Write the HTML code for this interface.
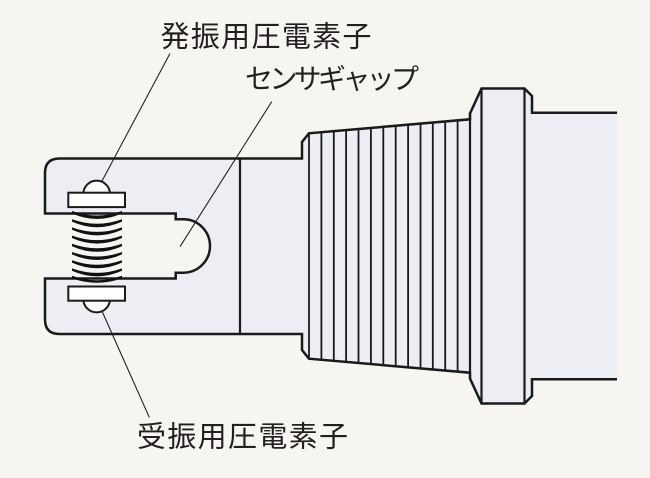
<!DOCTYPE html>
<html>
<head>
<meta charset="utf-8">
<style>
  html,body{margin:0;padding:0;background:#f6f5f1;}
  svg{display:block;}
  text{font-family:"Liberation Sans","Noto Sans CJK JP",sans-serif;fill:#231f20;}
</style>
</head>
<body>
<svg width="650" height="478" viewBox="0 0 650 478" xmlns="http://www.w3.org/2000/svg">
  <rect x="0" y="0" width="650" height="478" fill="#f6f5f1"/>

  <!-- body fill -->
  <path d="M45,213.5 V173 Q45,158.5 59.5,158.5 H302 V142 L309,133.3 L470,119.3 V113.5 L481.5,88.5 H524.5 L532,96 V112.7 H617 V379.3 H532 V396 L524.5,403.5 H481.5 L470,378.5 V372.7 L309,358.7 L302,350 V334 H59.5 Q45,334 45,319.5 V278.5 H175.7 V272.7 H183.3 A26.7,26.7 0 0 0 183.3,219.3 H175.7 V213.5 Z" fill="#eceef3" stroke="none"/>

  <!-- thread verticals -->
  <g stroke="#1a1a1a" stroke-width="1.8">
    <line x1="309" y1="133.3" x2="309" y2="358.7"/>
    <line x1="321.4" y1="132.2" x2="321.4" y2="359.8"/>
    <line x1="333.8" y1="131.1" x2="333.8" y2="360.9"/>
    <line x1="346.1" y1="130.1" x2="346.1" y2="361.9"/>
    <line x1="358.5" y1="129.0" x2="358.5" y2="363.0"/>
    <line x1="370.9" y1="127.9" x2="370.9" y2="364.1"/>
    <line x1="383.3" y1="126.8" x2="383.3" y2="365.2"/>
    <line x1="395.7" y1="125.8" x2="395.7" y2="366.2"/>
    <line x1="408.1" y1="124.7" x2="408.1" y2="367.3"/>
    <line x1="420.5" y1="123.6" x2="420.5" y2="368.4"/>
    <line x1="432.8" y1="122.5" x2="432.8" y2="369.5"/>
    <line x1="445.2" y1="121.5" x2="445.2" y2="370.5"/>
    <line x1="457.6" y1="120.4" x2="457.6" y2="371.6"/>
  </g>
  <g stroke="#1a1a1a" stroke-width="2.2">
    <line x1="470" y1="113.5" x2="470" y2="378.5"/>
    <line x1="481.5" y1="88.5" x2="481.5" y2="403.5"/>
    <line x1="524.5" y1="88.5" x2="524.5" y2="403.5"/>
    <line x1="240" y1="158.5" x2="240" y2="334"/>
  </g>

  <!-- outline -->
  <path d="M617,112.7 H532 V96 L524.5,88.5 H481.5 L470,113.5 V119.3 L309,133.3 L302,142 V158.5 H59.5 Q45,158.5 45,173 V213.5 H175.7 V219.3 H183.3 A26.7,26.7 0 0 1 183.3,272.7 H175.7 V278.5 H45 V319.5 Q45,334 59.5,334 H302 V350 L309,358.7 L470,372.7 V378.5 L481.5,403.5 H524.5 L532,396 V379.3 H617" fill="none" stroke="#1a1a1a" stroke-width="2.5" stroke-linejoin="miter"/>

  <!-- leader lines -->
  <g stroke="#222" stroke-width="1.1" fill="none">
    <line x1="170" y1="53.5" x2="102" y2="181"/>
    <line x1="271.7" y1="101.7" x2="180" y2="246.7"/>
    <line x1="101.7" y1="310.5" x2="149.3" y2="417.3"/>
  </g>

  <!-- spring -->
  <g fill="#111">
    <path d="M72,211.0 Q97,220.0 122,211.0 L122,213.4 Q97,224.6 72,213.4 Z"/>
    <path d="M72,219.2 Q97,228.2 122,219.2 L122,221.6 Q97,232.8 72,221.6 Z"/>
    <path d="M72,227.4 Q97,236.4 122,227.4 L122,229.8 Q97,241.0 72,229.8 Z"/>
    <path d="M72,235.6 Q97,244.6 122,235.6 L122,238.0 Q97,249.2 72,238.0 Z"/>
    <path d="M72,243.8 Q97,252.8 122,243.8 L122,246.2 Q97,257.4 72,246.2 Z"/>
    <path d="M72,252.0 Q97,261.0 122,252.0 L122,254.4 Q97,265.6 72,254.4 Z"/>
    <path d="M72,260.2 Q97,269.2 122,260.2 L122,262.6 Q97,273.8 72,262.6 Z"/>
    <path d="M72,268.4 Q97,277.4 122,268.4 L122,270.8 Q97,282.0 72,270.8 Z"/>
    <path d="M72,275.8 Q97,284.8 122,275.8 L122,278.2 Q97,287.4 72,278.2 Z"/>
  </g>

  <!-- piezo elements -->
  <g stroke="#1a1a1a" stroke-width="2">
    <path d="M83.3,194 A13.3,13.3 0 0 1 110,194 Z" fill="#fbfbfb"/>
    <rect x="68.3" y="192.7" width="56.7" height="14.4" fill="#ffffff"/>
    <path d="M83.3,299 A13.3,13.3 0 0 0 110,299 Z" fill="#fbfbfb"/>
    <rect x="68.3" y="286.5" width="56.7" height="14.2" fill="#ffffff"/>
  </g>

  <!-- labels -->
  <text x="160.5" y="46.5" font-size="29" textLength="211" lengthAdjust="spacing">発振用圧電素子</text>
  <text x="245" y="88.5" font-size="28" textLength="174" lengthAdjust="spacing">センサギャップ</text>
  <text x="137" y="446.5" font-size="29" textLength="211" lengthAdjust="spacing">受振用圧電素子</text>
</svg>
</body>
</html>
